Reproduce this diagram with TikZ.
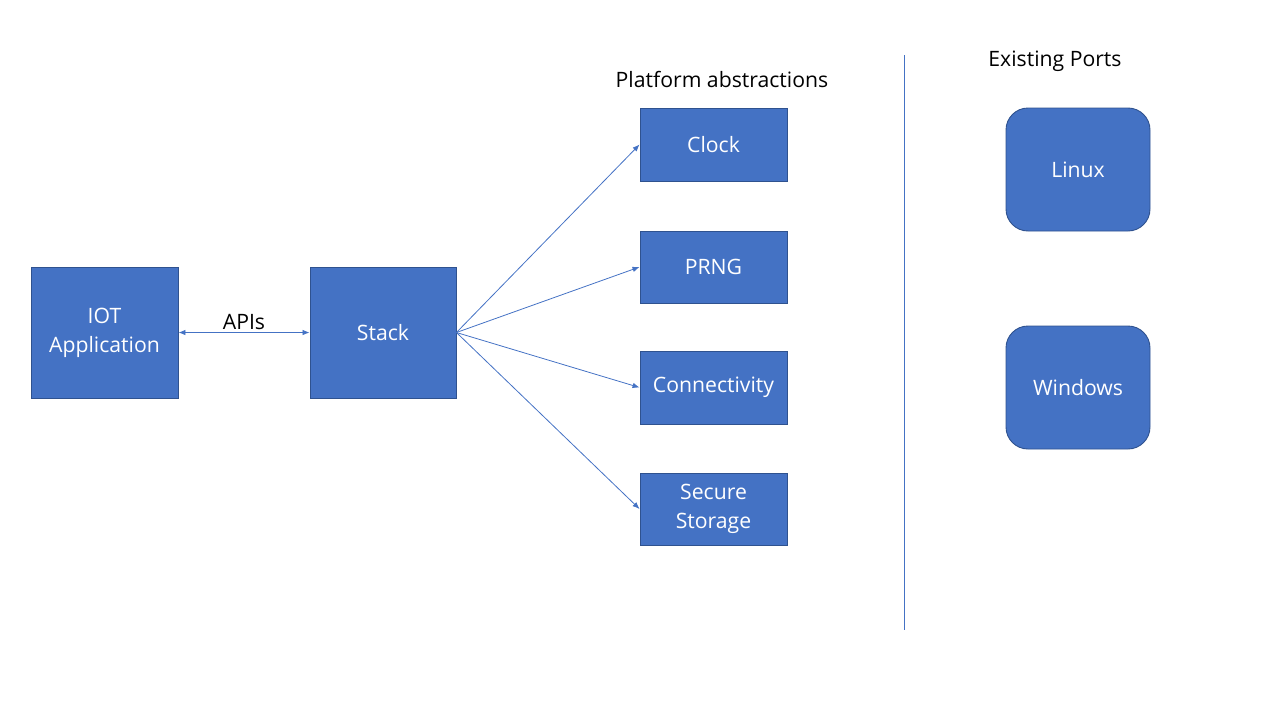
\documentclass[tikz,border=0pt]{standalone}
\usepackage{fontspec}
\setmainfont{Open Sans}
\usetikzlibrary{arrows.meta}
\definecolor{boxfill}{HTML}{4472C4}
\definecolor{boxline}{HTML}{2F528F}
\begin{document}
\begin{tikzpicture}[x=1pt,y=-1pt,
  box/.style={draw=boxline,fill=boxfill,line width=0.9pt,text=white,align=center,
    font=\fontsize{21.2}{29}\selectfont,inner sep=0pt},
  rbox/.style={box,rounded corners=22pt},
  conn/.style={draw=boxfill,line width=0.8pt,-{Latex[length=7pt,width=5.5pt]}},
  lbl/.style={font=\fontsize{21.2}{26}\selectfont,text=black}]
\useasboundingbox (0,0) rectangle (1280,720);
\node[box,minimum width=147pt,minimum height=131pt] (iot) at (104.5,332.5) {IOT\\Application};
\node[box,minimum width=146pt,minimum height=131pt] (stack) at (383,332.5) {Stack};
\node[box,minimum width=147pt,minimum height=73pt] (clock) at (713.5,144.5) {Clock};
\node[box,minimum width=147pt,minimum height=72pt] (prng) at (713.5,267) {PRNG};
\node[box,minimum width=147pt,minimum height=73pt] (conn) at (713.5,387.5) {Connectivity};
\node[box,minimum width=147pt,minimum height=72pt] (store) at (713.5,509) {Secure\\Storage};
\node[rbox,minimum width=144pt,minimum height=123pt] (linux) at (1078,169.5) {Linux};
\node[rbox,minimum width=144pt,minimum height=123pt] (win) at (1078,387.5) {Windows};
\node[lbl] (plat) at (722,79) {Platform abstractions};
\node[lbl] (ports) at (1055,61) {Existing Ports};
\coordinate (ltop) at (904,55);
\coordinate (lbot) at (904,630);
\draw[draw=boxfill,line width=0.9pt] (ltop) -- (lbot);
\draw[conn,{Latex[length=7pt,width=5.5pt]}-{Latex[length=7pt,width=5.5pt]}] (iot.east) -- node[lbl,above=-1pt] (apis) {APIs} (stack.west);
\draw[conn] (stack.east) -- (clock.west);
\draw[conn] (stack.east) -- (prng.west);
\draw[conn] (stack.east) -- (conn.west);
\draw[conn] (stack.east) -- (store.west);
\end{tikzpicture}
\end{document}
